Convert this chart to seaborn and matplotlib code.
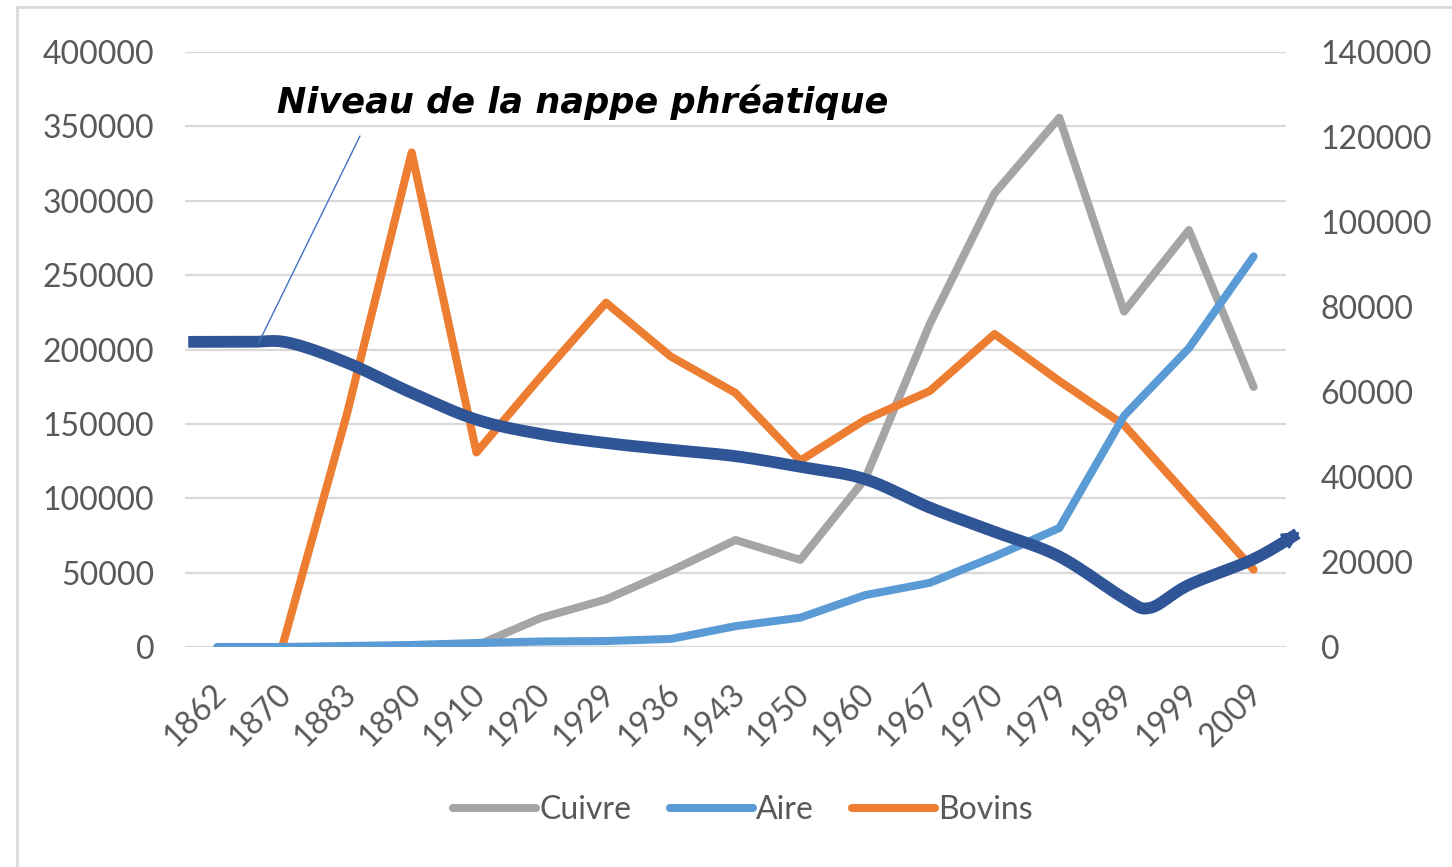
import numpy as np
import pandas as pd
import matplotlib.pyplot as plt
import matplotlib.transforms as mtransforms
from matplotlib.lines import Line2D
from matplotlib.patches import Rectangle
import seaborn as sns

# Data
years = ['1862', '1870', '1883', '1890', '1910', '1920', '1929', '1936', '1943',
         '1950', '1960', '1967', '1970', '1979', '1989', '1999', '2009']
cuivre = [0, 0, 0, 0, 1000, 19600, 32000, 51200, 71900, 58600, 112900, 217200,
          305000, 355800, 225500, 280300, 174800]
bovins = [np.nan, 0, 156600, 332500, 130800, 182000, 231500, 195300, 170800,
          125300, 152700, 172100, 210400, 178800, 149200, 100600, 52000]
# secondary axis
aire = [0, 0, 235, 470, 940, 1300, 1400, 1900, 4900, 6900, 12200, 15100, 21300,
        28000, 54400, 70300, 91900]

# hand drawn curve (category position, right axis value)
nappe_pos = [-0.45, 0.5, 1.1, 2, 3, 4, 5, 6, 7, 8, 9, 10, 11, 12, 13, 14, 14.4, 15, 16, 16.72]
nappe_val = [71800, 71800, 71600, 66900, 59800, 53500, 50100, 48000, 46400, 44900,
             42400, 39500, 32800, 27100, 21300, 11500, 9200, 14600, 20700, 27100]
nappe_label = 'Niveau de la nappe phréatique'

GRAY = '#A5A5A5'
BLUE = '#5B9BD5'
ORANGE = '#ED7D31'
NAVY = '#2F5597'
TXT = '#595959'

sns.set_style('white')
plt.rcParams['font.family'] = ['Lato', 'DejaVu Sans']

W, H = 1452, 867
fig = plt.figure(figsize=(W / 100, H / 100), dpi=100)
ax = fig.add_axes([185 / W, 1 - 647 / H, (1286 - 185) / W, (647 - 52) / H])
ax2 = ax.twinx()

df = pd.DataFrame({'pos': np.arange(len(years)), 'Cuivre': cuivre,
                   'Bovins': bovins, 'Aire': aire})

lw = 5.8
sns.lineplot(data=df, x='pos', y='Cuivre', ax=ax, color=GRAY, lw=lw,
             solid_capstyle='round', legend=False)
sns.lineplot(data=df.dropna(), x='pos', y='Bovins', ax=ax, color=ORANGE, lw=lw,
             solid_capstyle='round', legend=False)
sns.lineplot(data=df, x='pos', y='Aire', ax=ax2, color=BLUE, lw=lw,
             solid_capstyle='round', legend=False)


def catmull(xs, ys, n=30):
    P = np.column_stack([xs, ys]).astype(float)
    P = np.vstack([P[0], P, P[-1]])
    t = np.linspace(0, 1, n)[:, None]
    segs = []
    for i in range(1, len(P) - 2):
        p0, p1, p2, p3 = P[i - 1], P[i], P[i + 1], P[i + 2]
        segs.append(0.5 * (2 * p1 + (-p0 + p2) * t
                           + (2 * p0 - 5 * p1 + 4 * p2 - p3) * t ** 2
                           + (-p0 + 3 * p1 - 3 * p2 + p3) * t ** 3))
    return np.vstack(segs)


curve = catmull(nappe_pos, nappe_val)
ax2.plot(curve[:-3, 0], curve[:-3, 1], color=NAVY, lw=8.5, clip_on=False,
         solid_capstyle='butt', zorder=5)
ax2.annotate('', xy=curve[-1], xytext=curve[-6], annotation_clip=False,
             arrowprops=dict(arrowstyle='-|>', color=NAVY, lw=2,
                             mutation_scale=26, shrinkA=0, shrinkB=0),
             zorder=6)

# axes styling
ax.set_xlim(-0.5, len(years) - 0.5)
ax.set_ylim(0, 400000)
ax2.set_ylim(0, 140000)
ax.set_yticks(np.arange(0, 400001, 50000))
ax2.set_yticks(np.arange(0, 140001, 20000))
ax.set_xticks(np.arange(len(years)))
ax.set_xticklabels(years)
ax.set_xlabel('')
ax.set_ylabel('')
ax2.set_ylabel('')
for a in (ax, ax2):
    for s in a.spines.values():
        s.set_visible(False)
ax.grid(axis='y', color='#D9D9D9', lw=1.6)
ax.grid(axis='x', visible=False)
ax2.grid(False)
ax.set_axisbelow(True)

ax.tick_params(axis='y', length=0, pad=22, labelsize=23, labelcolor=TXT)
ax2.tick_params(axis='y', length=0, pad=25, labelsize=23, labelcolor=TXT)
ax.tick_params(axis='x', length=0, pad=23, labelsize=23, labelcolor=TXT)
shift = mtransforms.ScaledTranslation(15 / 100, 0, fig.dpi_scale_trans)
for lab in ax.get_xticklabels():
    lab.set_rotation(45)
    lab.set_ha('right')
    lab.set_va('top')
    lab.set_transform(lab.get_transform() + shift)

# annotation text and leader line
fig.text(277 / W, 1 - 113 / H, nappe_label, fontsize=25.3, fontweight='bold',
         fontstyle='italic', family=['DejaVu Sans'],
         va='baseline', ha='left', color='black')
fig.add_artist(Line2D([360 / W, 259 / W], [1 - 136 / H, 1 - 342 / H],
                      color='#4472C4', lw=1.0))

# legend
handles = [Line2D([], [], color=c, lw=lw, solid_capstyle='round')
           for c in (GRAY, BLUE, ORANGE)]
fig.legend(handles, ['Cuivre', 'Aire', 'Bovins'], loc='center',
           bbox_to_anchor=(743 / W, 1 - 810 / H), ncol=3, frameon=False,
           fontsize=23, labelcolor=TXT, handlelength=2.6, handletextpad=0.1,
           columnspacing=1.2)

# chart area border
fig.add_artist(Rectangle((17 / W, -0.05), 1.1, 1 - 7 / H + 0.05,
                         transform=fig.transFigure, fill=False,
                         edgecolor='#D9D9D9', lw=2))

fig.savefig('out.png', dpi=100)
plt.close(fig)
